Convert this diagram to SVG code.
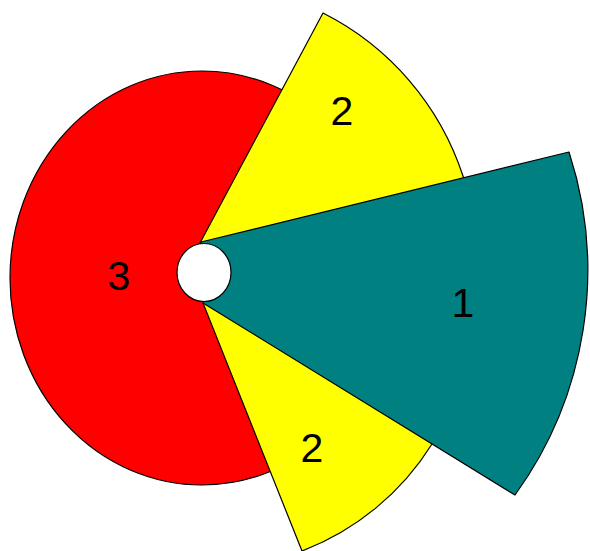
<svg xmlns="http://www.w3.org/2000/svg" width="590" height="551" viewBox="0 0 590 551">
<style>
.s{stroke:#000;stroke-width:1.2;stroke-linejoin:round}
.lbl{font-family:"Liberation Sans",Arial,sans-serif;font-size:41px;fill:#000;text-anchor:middle}
</style>
<rect width="590" height="551" fill="#fff"/>
<g id="slice-3">
<ellipse class="s" cx="202" cy="278" rx="192" ry="207" fill="#FF0000"/>
<text class="lbl" x="119" y="290">3</text>
</g>
<g id="slice-2-top">
<path class="s" d="M200,243 L323,13 A280,280 0 0 1 463,176 L470,200 L215,262 Z" fill="#FFFF00"/>
<text class="lbl" x="342" y="125">2</text>
</g>
<g id="slice-2-bottom">
<path class="s" d="M203,303 L302,551 A264,264 0 0 0 432,444 L440,420 L220,300 Z" fill="#FFFF00"/>
<text class="lbl" x="312" y="462">2</text>
</g>
<g id="slice-1">
<path class="s" d="M201,242 L569,152 A383,383 0 0 1 515,495 L203,303 Z" fill="#008080"/>
<text class="lbl" x="463" y="317">1</text>
</g>
<g id="hole">
<ellipse class="s" cx="204" cy="272.5" rx="27" ry="29" fill="#fff"/>
</g>
</svg>
